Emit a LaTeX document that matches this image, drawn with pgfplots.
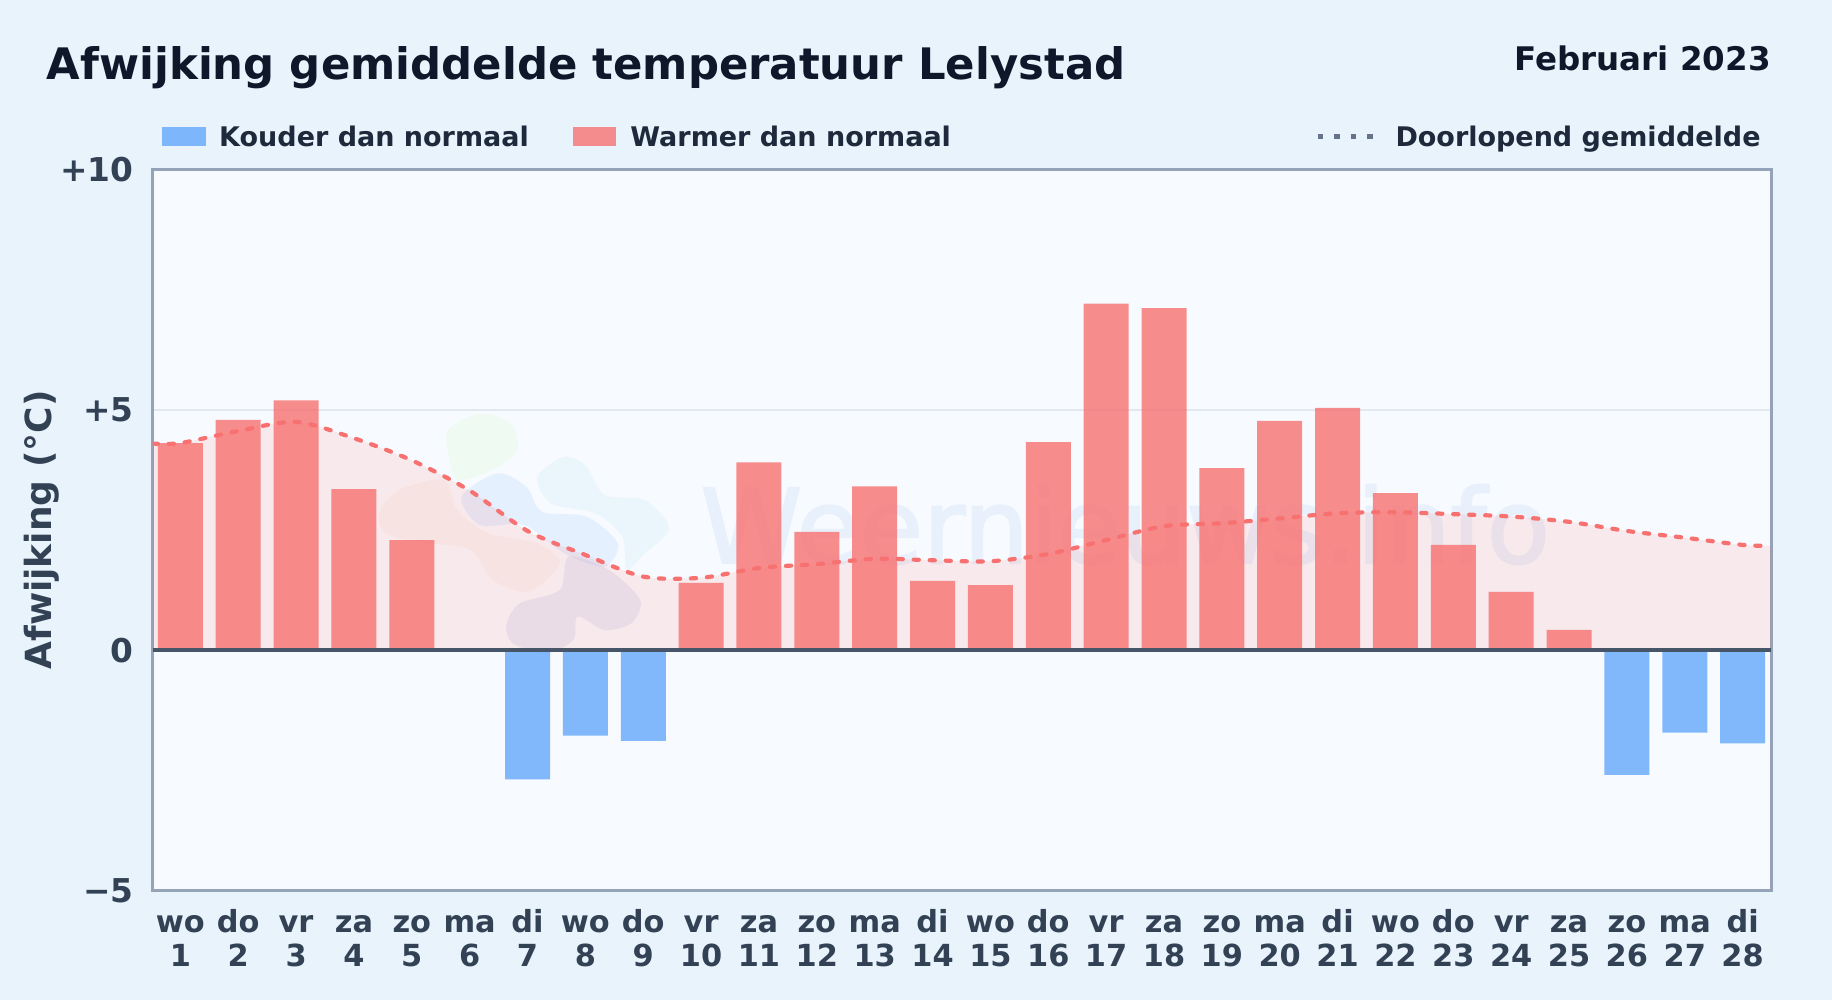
\documentclass[border=0pt]{standalone}
\usepackage{pgfplots}
\pgfplotsset{compat=1.18}
\usepackage{pgfplotstable}
\usepackage{fontspec}
\setmainfont{DejaVu Sans}
\newfontfamily\wmfont[FakeBold=2]{DejaVu Sans}
\definecolor{pagebg}{HTML}{E8F3FC}
\definecolor{plotbg}{HTML}{F7FBFF}
\definecolor{spine}{HTML}{94A3B8}
\definecolor{zeroline}{HTML}{475569}
\definecolor{gridc}{HTML}{E2E8F0}
\definecolor{ticktext}{HTML}{334155}
\definecolor{legtext}{HTML}{1E293B}
\definecolor{titletext}{HTML}{0F172A}
\definecolor{warm}{HTML}{F87171}
\definecolor{cold}{HTML}{60A5FA}
\definecolor{legdots}{HTML}{64748B}
\definecolor{wmtext}{HTML}{E8F1FB}
\newcommand{\dl}[2]{\strut #1\\\strut #2}

% day index (0 = wo 1), deviation in degrees
\pgfplotstableread{
x y
0 4.31
1 4.79
2 5.20
3 3.35
4 2.29
9 1.40
10 3.91
11 2.46
12 3.41
13 1.44
14 1.35
15 4.33
16 7.21
17 7.12
18 3.79
19 4.77
20 5.04
21 3.27
22 2.19
23 1.21
24 0.42
}\warmdata
\pgfplotstableread{
x y
6 -2.69
7 -1.78
8 -1.89
25 -2.60
26 -1.72
27 -1.94
}\colddata
\pgfplotstableread{
x y
-0.478 4.30
0 4.31
1 4.56
2 4.75
3 4.41
4 3.95
5 3.32
6 2.48
7 1.98
8 1.53
9 1.505
10 1.71
11 1.79
12 1.90
13 1.87
14 1.85
15 2.00
16 2.29
17 2.58
18 2.64
19 2.74
20 2.85
21 2.87
22 2.83
23 2.78
24 2.67
25 2.48
26 2.34
27 2.19
27.496 2.17
}\avgdata

\begin{document}
\begin{tikzpicture}
\useasboundingbox (0,0) rectangle (916pt,500pt);
\fill[pagebg] (0,0) rectangle (916pt,500pt);
\fill[plotbg] (76.35pt,54.85pt) rectangle (885.65pt,415.15pt);

% watermark logo, in crop coordinates
\begin{scope}[shift={(175pt,300pt)},x=0.2232pt,y=-0.16667pt]
\fill[green!60!yellow,opacity=.05] plot[smooth cycle] coordinates {(220,90)(290,40)(360,70)(375,150)(320,210)(240,240)(220,160)};
\fill[orange,opacity=.05] plot[smooth cycle] coordinates {(65,340)(110,270)(210,240)(240,330)(310,400)(420,430)(470,490)(400,575)(320,540)(270,450)(150,425)(80,400)};
\fill[blue!60!cyan,opacity=.07] plot[smooth cycle] coordinates {(250,290)(330,220)(395,260)(430,335)(530,350)(600,430)(570,500)(480,460)(390,375)(290,375)};
\fill[cyan!70!blue,opacity=.05] plot[smooth cycle] coordinates {(420,230)(480,170)(530,200)(570,285)(660,300)(715,385)(660,460)(620,510)(610,410)(550,340)(450,310)};
\fill[blue!40!gray,opacity=.08] plot[smooth cycle] coordinates {(350,675)(380,610)(470,570)(490,470)(580,510)(650,600)(630,670)(570,690)(510,650)(500,720)(440,760)(365,730)};
\end{scope}
\node[anchor=base west,inner sep=0pt,text=wmtext,font=\wmfont\fontsize{51.5}{60}\selectfont] at (350pt,218.5pt) {Weernieuws.info};

\begin{axis}[
    at={(76.35pt,54.85pt)}, anchor=south west,
    scale only axis,
    width=809.3pt, height=360.3pt,
    xmin=-0.478, xmax=27.496,
    ymin=-5, ymax=10,
    xtick={0,...,27},
    xticklabels={\dl{wo}{1},\dl{do}{2},\dl{vr}{3},\dl{za}{4},\dl{zo}{5},\dl{ma}{6},\dl{di}{7},\dl{wo}{8},\dl{do}{9},\dl{vr}{10},\dl{za}{11},\dl{zo}{12},\dl{ma}{13},\dl{di}{14},\dl{wo}{15},\dl{do}{16},\dl{vr}{17},\dl{za}{18},\dl{zo}{19},\dl{ma}{20},\dl{di}{21},\dl{wo}{22},\dl{do}{23},\dl{vr}{24},\dl{za}{25},\dl{zo}{26},\dl{ma}{27},\dl{di}{28}},
    ytick={-5,0,5,10},
    yticklabels={−5,0,+5,+10},
    major tick length=0pt,
    ymajorgrids=true,
    major grid style={gridc,line width=0.9pt},
    axis line style={spine,line width=1.25pt},
    xticklabel style={text=ticktext,font=\fontsize{15.2}{16.8}\selectfont\bfseries,align=center,yshift=-6pt},
    yticklabel style={text=ticktext,font=\fontsize{16.4}{19}\selectfont\bfseries,xshift=-6pt},
    ylabel={Afwijking (°C)},
    ylabel style={text=ticktext,font=\fontsize{18}{21}\selectfont\bfseries},
    ylabel shift=-6pt,
    clip=true,
]
\addplot[draw=none,fill=warm,fill opacity=.13,smooth] table[x=x,y=y] {\avgdata} \closedcycle;
\addplot[ybar,bar shift=0pt,bar width=22.5pt,draw=none,fill=warm,fill opacity=.8] table[x=x,y=y] {\warmdata};
\addplot[ybar,bar shift=0pt,bar width=22.5pt,draw=none,fill=cold,fill opacity=.78] table[x=x,y=y] {\colddata};
\addplot[warm,smooth,line width=2.1pt,line cap=round,dash pattern=on 2.6pt off 5.4pt] table[x=x,y=y] {\avgdata};
\addplot[zeroline,line width=1.7pt] coordinates {(-0.478,0)(27.496,0)};
\end{axis}

% title and date
\node[anchor=base west,inner sep=0pt,text=titletext,font=\fontsize{21.7}{25}\selectfont\bfseries] at (23.2pt,460pt) {Afwijking gemiddelde temperatuur Lelystad};
\node[anchor=base east,inner sep=0pt,text=titletext,font=\fontsize{16.25}{19}\selectfont\bfseries] at (885.5pt,464.8pt) {Februari 2023};

% legend
\fill[cold,opacity=.78] (81pt,427pt) rectangle (102.9pt,436.7pt);
\node[anchor=base west,inner sep=0pt,text=legtext,font=\fontsize{13.5}{15}\selectfont\bfseries] at (109.4pt,426.5pt) {Kouder dan normaal};
\fill[warm,opacity=.8] (286.4pt,427pt) rectangle (308pt,436.7pt);
\node[anchor=base west,inner sep=0pt,text=legtext,font=\fontsize{13.5}{15}\selectfont\bfseries] at (315pt,426.5pt) {Warmer dan normaal};
\draw[legdots,line width=2.3pt,dash pattern=on 2.8pt off 5.45pt] (658.8pt,431.7pt) -- (688pt,431.7pt);
\node[anchor=base east,inner sep=0pt,text=legtext,font=\fontsize{13.5}{15}\selectfont\bfseries] at (880.5pt,426.5pt) {Doorlopend gemiddelde};
\end{tikzpicture}
\end{document}
